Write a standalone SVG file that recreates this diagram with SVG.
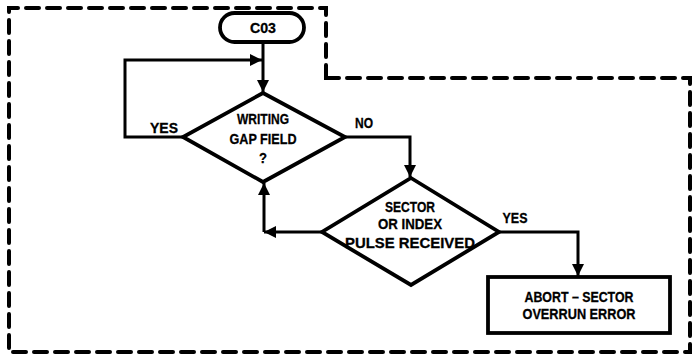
<svg xmlns="http://www.w3.org/2000/svg" width="694" height="356" viewBox="0 0 694 356">
<style>
.t{font-family:"Liberation Sans",Arial,sans-serif;font-weight:bold;font-size:15.5px;fill:#000;stroke:#000;stroke-width:0.3;text-anchor:middle}
.m{font-size:14.5px}
.s{fill:none;stroke:#000;stroke-width:3.8;stroke-linejoin:miter}
.c{fill:none;stroke:#000;stroke-width:3}
.b{fill:none;stroke:#000;stroke-width:4;stroke-dasharray:13 8;stroke-linecap:round}
</style>
<defs>
<marker id="a" viewBox="0 0 10 10" refX="10" refY="5" markerWidth="4" markerHeight="4" markerUnits="strokeWidth" orient="auto"><path d="M0,0 L10,5 L0,10 Z" fill="#000"/></marker>
</defs>
<rect width="694" height="356" fill="#fff"/>
<path class="b" d="M326,78 L326,8 L9,8 L9,352 L690,352 L690,78 Z"/>
<g id="start"><rect class="s" x="220" y="13" width="84" height="29" rx="14.5"/><text class="t" x="263" y="33" textLength="26" lengthAdjust="spacingAndGlyphs">C03</text></g>
<g id="d1"><polygon class="s" points="263,93 345,137 263,182 183,137"/>
<text class="t" x="263" y="124" textLength="52" lengthAdjust="spacingAndGlyphs">WRITING</text>
<text class="t" x="263" y="144" textLength="67" lengthAdjust="spacingAndGlyphs">GAP FIELD</text>
<text class="t" x="263" y="163" textLength="8" lengthAdjust="spacingAndGlyphs">?</text></g>
<g id="d2"><polygon class="s" points="411,178 499,232 411,285 322,232"/>
<text class="t" x="410" y="212" textLength="50" lengthAdjust="spacingAndGlyphs">SECTOR</text>
<text class="t" x="410" y="229" textLength="64" lengthAdjust="spacingAndGlyphs">OR INDEX</text>
<text class="t" x="410" y="248" textLength="130" lengthAdjust="spacingAndGlyphs">PULSE RECEIVED</text></g>
<g id="abort"><rect class="s" x="488" y="277" width="182" height="56"/>
<text class="t m" x="579" y="302" textLength="109" lengthAdjust="spacingAndGlyphs">ABORT – SECTOR</text>
<text class="t m" x="579" y="319" textLength="113" lengthAdjust="spacingAndGlyphs">OVERRUN ERROR</text></g>
<g id="connectors">
<path class="c" d="M263,42 L263,92" marker-end="url(#a)"/>
<path class="c" d="M183,137 L125,137 L125,60 L262,60" marker-end="url(#a)"/>
<path class="c" d="M345,137 L410,137 L410,177" marker-end="url(#a)"/>
<path class="c" d="M322,232 L264,232" marker-end="url(#a)"/>
<path class="c" d="M264,232 L264,183" marker-end="url(#a)"/>
<path class="c" d="M499,232 L578,232 L578,276" marker-end="url(#a)"/>
<text class="t" x="164" y="133" textLength="28" lengthAdjust="spacingAndGlyphs">YES</text>
<text class="t" x="364" y="128" textLength="18" lengthAdjust="spacingAndGlyphs">NO</text>
<text class="t" x="515" y="223" textLength="25" lengthAdjust="spacingAndGlyphs">YES</text>
</g>
</svg>
